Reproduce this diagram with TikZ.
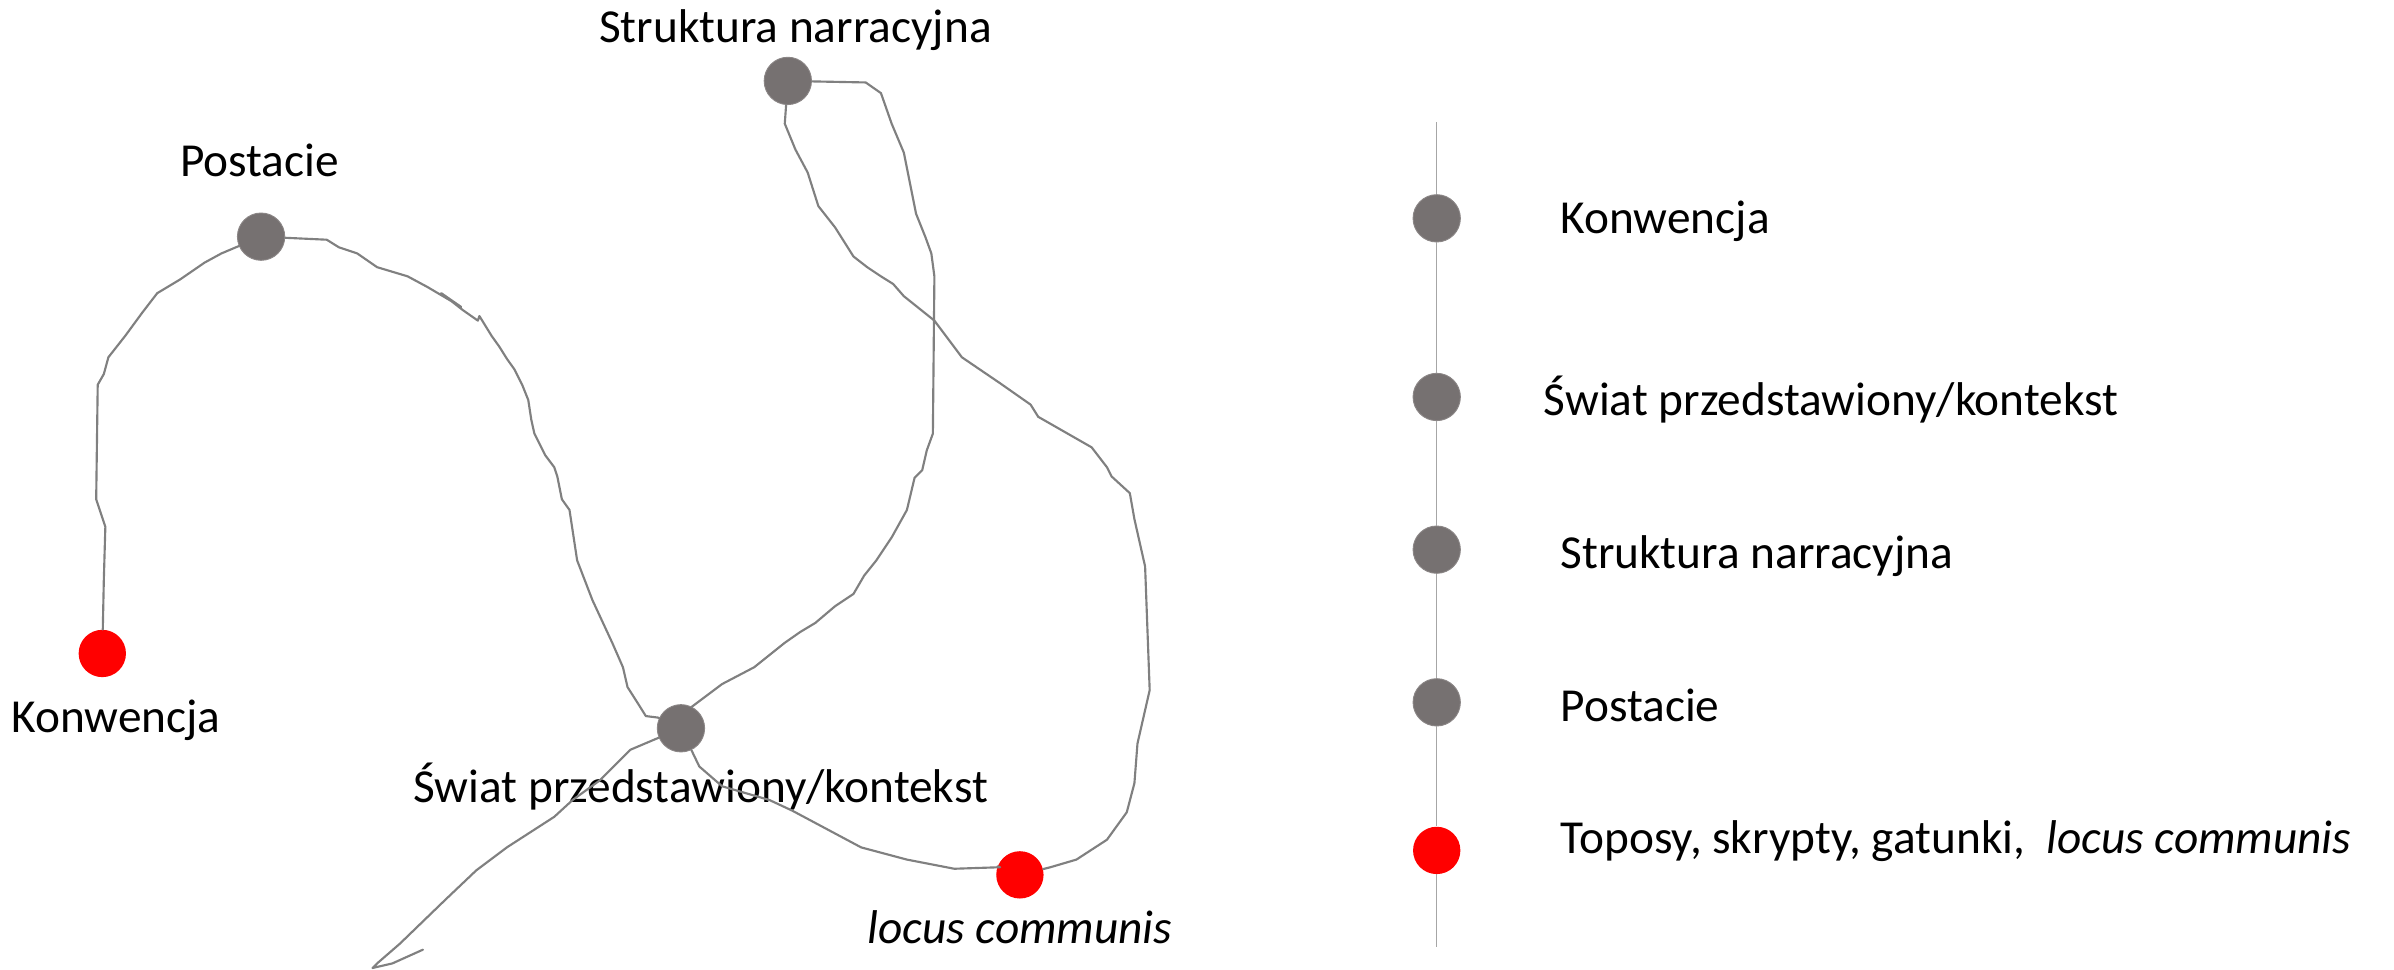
\documentclass[tikz,border=0pt]{standalone}
\usepackage{fontspec}
\setmainfont{Carlito}
\begin{document}
\begin{tikzpicture}[x=1pt,y=-1pt,
  route/.style={draw=routegray,line width=1.4pt,line join=round,line cap=round},
  gdot/.style={circle,fill=dotgray,draw=dotgray!85!white,line width=0.6pt,minimum size=31pt,inner sep=0pt},
  rdot/.style={circle,fill=red,minimum size=31pt,inner sep=0pt},
  lbl/.style={inner sep=0pt,font=\fontsize{31}{37}\selectfont},
  leg/.style={lbl,anchor=west}]
\definecolor{routegray}{HTML}{808080}
\definecolor{dotgray}{HTML}{767171}
\definecolor{legline}{HTML}{A6A6A6}
\useasboundingbox (0,0) rectangle (1568,635);

% map nodes
\node[rdot] (konw) at (67,428) {};
\node[gdot] (post) at (171,155) {};
\node[gdot] (struk) at (516,53) {};
\node[gdot] (swiat) at (446,477) {};
\node[rdot] (locus) at (668,573) {};
\coordinate (tail) at (277,622);

% map labels
\node[lbl] (tkonw) at (76,472) {Konwencja};
\node[lbl] (tpost) at (170,105) {Postacie};
\node[lbl] (tstruk) at (521,20) {Struktura narracyjna};
\node[lbl] (tswiat) at (459,515) {Świat przedstawiony/kontekst};
\node[lbl] (tlocus) at (668,607) {\itshape locus communis};

% routes
\draw[route] (konw) -- (68,380) -- (69,345) -- (63,327) -- (64,252) -- (68,245) -- (71,234) -- (82,220) -- (93,205) -- (103,192) -- (118,183) -- (134,172) -- (145,166) -- (post);
\draw[route] (post) -- (214,157) -- (222,162) -- (234,166) -- (247,175) -- (267,181) -- (280,188) -- (302,201) -- (289,192) -- (303,203) -- (313,210) -- (314,207) -- (322,220) -- (327,227) -- (332,235) -- (337,242) -- (342,252) -- (346,262) -- (348,275) -- (350,284) -- (357,298) -- (363,306) -- (365,312) -- (368,327) -- (373,334) -- (378,367) -- (388,393) -- (401,421) -- (408,437) -- (411,450) -- (418,461) -- (423,469) -- (431,470) -- (swiat);
\draw[route] (struk) -- (567,54) -- (577,61) -- (584,81) -- (592,100) -- (600,140) -- (606,155) -- (610,166) -- (612,181) -- (611,284) -- (607,295) -- (604,308) -- (599,313) -- (594,334) -- (584,352) -- (574,367) -- (566,377) -- (559,389) -- (547,397) -- (534,408) -- (524,414) -- (514,421) -- (494,437) -- (473,448) -- (453,463) -- (swiat);
\draw[route] (swiat) -- (413,491) -- (393,511) -- (375,524) -- (363,535) -- (332,555) -- (312,570) -- (292,589) -- (262,618) -- (247,631) -- (244,634) -- (257,631) -- (tail);
\draw[route] (struk) -- (514,81) -- (521,98) -- (529,113) -- (536,135) -- (547,149) -- (559,168) -- (568,175) -- (577,181) -- (585,186) -- (592,194) -- (612,210) -- (630,234) -- (655,251) -- (675,265) -- (680,273) -- (715,293) -- (725,306) -- (728,312) -- (740,323) -- (743,340) -- (750,371) -- (753,452) -- (745,487) -- (743,513) -- (738,532) -- (725,550) -- (705,563) -- (688,568) -- (locus);
\draw[route] (swiat) -- (458,502) -- (473,515) -- (504,524) -- (519,531) -- (534,539) -- (564,555) -- (594,563) -- (625,569) -- (655,568) -- (locus);

% legend
\coordinate (ltop) at (941,80);
\coordinate (lbot) at (941,620);
\node[gdot] (l1) at (941,143) {};
\node[gdot] (l2) at (941,260) {};
\node[gdot] (l3) at (941,360) {};
\node[gdot] (l4) at (941,460) {};
\node[rdot] (l5) at (941,557) {};
\draw[legline,line width=1pt] (ltop) -- (l1) (l1) -- (l2) (l2) -- (l3) (l3) -- (l4) (l4) -- (l5) (l5) -- (lbot);
\node[leg] (e1) at (1022,145) {Konwencja};
\node[leg] (e2) at (1011,262) {Świat przedstawiony/kontekst};
\node[leg] (e3) at (1022,364) {Struktura narracyjna};
\node[leg] (e4) at (1022,462) {Postacie};
\node[leg] (e5) at (1022,551) {Toposy, skrypty, gatunki,\ \ \textit{locus communis}};
\end{tikzpicture}
\end{document}
